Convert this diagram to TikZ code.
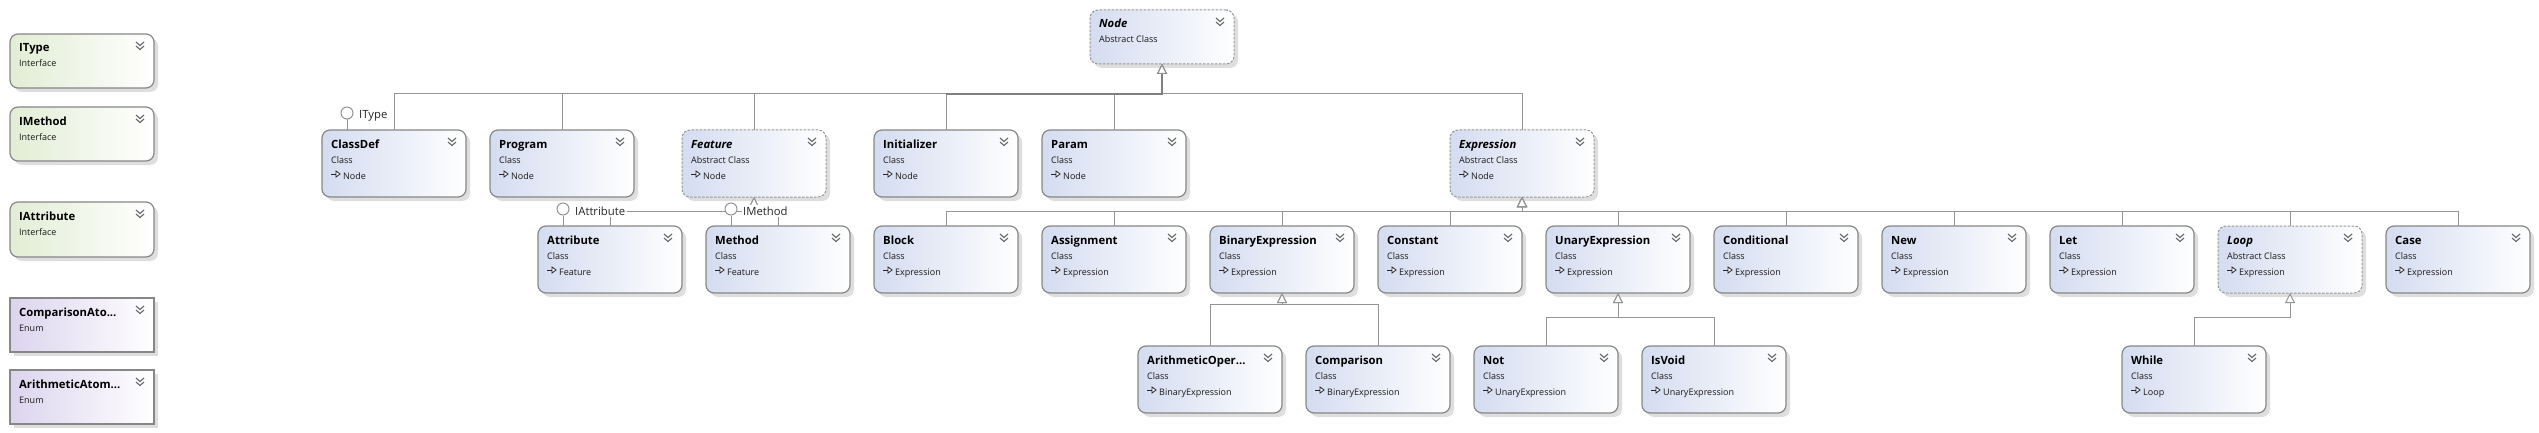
\documentclass[tikz,border=0pt]{standalone}
\usepackage{fontspec}
\setmainfont{Open Sans}
\usetikzlibrary{calc,arrows.meta}

\definecolor{clsL}{RGB}{212,220,240}
\definecolor{ifL}{RGB}{226,237,212}
\definecolor{enL}{RGB}{220,212,238}
\definecolor{bord}{RGB}{135,135,135}
\definecolor{dbord}{RGB}{150,150,150}
\definecolor{shad}{RGB}{222,222,222}
\definecolor{lnc}{RGB}{148,148,148}
\definecolor{chevc}{RGB}{100,100,100}

\tikzset{
  boxbase/.style={anchor=north west, minimum width=144pt, inner sep=0pt, outer sep=0pt, line width=1.2pt},
  clsbox/.style={boxbase, draw=bord, rounded corners=8pt, left color=clsL, right color=white},
  absbox/.style={boxbase, draw=dbord, line width=1pt, dash pattern=on 2.5pt off 1.5pt, rounded corners=8pt, left color=clsL, right color=white},
  ifbox/.style={boxbase, draw=bord, rounded corners=8pt, left color=ifL, right color=white},
  enumbox/.style={boxbase, draw=bord, left color=enL, right color=white},
  clsboxsh/.style={rounded corners=8pt},
  absboxsh/.style={rounded corners=8pt},
  ifboxsh/.style={rounded corners=8pt},
  enumboxsh/.style={},
  nametxt/.style={anchor=base west, inner sep=0pt, font=\fontsize{11.3}{13}\selectfont\bfseries},
  kindtxt/.style={anchor=base west, inner sep=0pt, text=black!90, font=\fontsize{9}{11}\selectfont},
  chevst/.style={draw=chevc, line width=1.1pt},
  garr/.style={draw=black!85, line width=0.8pt},
  conn/.style={draw=lnc, line width=1pt},
  inh/.style={conn, -{Triangle[open, fill=white, length=10pt, width=10pt]}},
  lolli/.style={circle, draw=lnc, line width=1pt, fill=white, minimum size=12pt, inner sep=0pt},
  lollbl/.style={anchor=base west, fill=white, inner sep=1.5pt, text=black!85, font=\fontsize{11.3}{13}\selectfont},
}

% \ubox{name}{style}{x}{y}{h}{title}{kind}{parent}
\newcommand\ubox[8]{%
  \fill[shad, #2sh] (#3+4,#4+4) rectangle (#3+148,#4+4+#5);
  \node[#2, minimum height=#5pt] (#1) at (#3,#4) {};
  \node[nametxt] (#1-n) at ($(#1.north west)+(9,18)$) {#6};
  \node[kindtxt] (#1-k) at ($(#1.north west)+(9,33)$) {#7};
  \draw[chevst] ($(#1.north east)+(-18,8)$) -- ++(4,3.5) -- ++(4,-3.5);
  \draw[chevst] ($(#1.north east)+(-18,12)$) -- ++(4,3.5) -- ++(4,-3.5);
  \ifx&#8&\else
    \draw[garr] ($(#1.north west)+(9,44)$) -- ++(5,0);
    \draw[garr, fill=white] ($(#1.north west)+(14,41)$) -- ++(4,3) -- ++(-4,3) -- cycle;
    \node[kindtxt] (#1-p) at ($(#1.north west)+(21,49)$) {#8};
  \fi
}

\begin{document}
\begin{tikzpicture}[x=1pt,y=-1pt]
\useasboundingbox[fill=white] (0,0) rectangle (2539,433);

% left column
\ubox{IType}{ifbox}{10}{34}{54}{IType}{Interface}{}
\ubox{IMethod}{ifbox}{10}{107}{54}{IMethod}{Interface}{}
\ubox{IAttribute}{ifbox}{10}{202}{55}{IAttribute}{Interface}{}
\ubox{ComparisonAtom}{enumbox}{10}{298}{54}{ComparisonAto...}{Enum}{}
\ubox{ArithmeticAtom}{enumbox}{10}{370}{54}{ArithmeticAtom...}{Enum}{}

% root
\ubox{Node}{absbox}{1090}{10}{54}{\textit{Node}}{Abstract Class}{}

% row 1
\ubox{ClassDef}{clsbox}{322}{130}{67}{ClassDef}{Class}{Node}
\ubox{Program}{clsbox}{490}{130}{67}{Program}{Class}{Node}
\ubox{Feature}{absbox}{682}{130}{67}{\textit{Feature}}{Abstract Class}{Node}
\ubox{Initializer}{clsbox}{874}{130}{67}{Initializer}{Class}{Node}
\ubox{Param}{clsbox}{1042}{130}{67}{Param}{Class}{Node}
\ubox{Expression}{absbox}{1450}{130}{67}{\textit{Expression}}{Abstract Class}{Node}

% row 2
\ubox{Attribute}{clsbox}{538}{226}{67}{Attribute}{Class}{Feature}
\ubox{Method}{clsbox}{706}{226}{67}{Method}{Class}{Feature}
\ubox{Block}{clsbox}{874}{226}{67}{Block}{Class}{Expression}
\ubox{Assignment}{clsbox}{1042}{226}{67}{Assignment}{Class}{Expression}
\ubox{BinaryExpression}{clsbox}{1210}{226}{67}{BinaryExpression}{Class}{Expression}
\ubox{Constant}{clsbox}{1378}{226}{67}{Constant}{Class}{Expression}
\ubox{UnaryExpression}{clsbox}{1546}{226}{67}{UnaryExpression}{Class}{Expression}
\ubox{Conditional}{clsbox}{1714}{226}{67}{Conditional}{Class}{Expression}
\ubox{New}{clsbox}{1882}{226}{67}{New}{Class}{Expression}
\ubox{Let}{clsbox}{2050}{226}{67}{Let}{Class}{Expression}
\ubox{Loop}{absbox}{2218}{226}{67}{\textit{Loop}}{Abstract Class}{Expression}
\ubox{Case}{clsbox}{2386}{226}{67}{Case}{Class}{Expression}

% row 3
\ubox{ArithmeticOper}{clsbox}{1138}{346}{67}{ArithmeticOper...}{Class}{BinaryExpression}
\ubox{Comparison}{clsbox}{1306}{346}{67}{Comparison}{Class}{BinaryExpression}
\ubox{Not}{clsbox}{1474}{346}{67}{Not}{Class}{UnaryExpression}
\ubox{IsVoid}{clsbox}{1642}{346}{67}{IsVoid}{Class}{UnaryExpression}
\ubox{While}{clsbox}{2122}{346}{67}{While}{Class}{Loop}

% bus levels
\coordinate (b1) at (0,94);
\coordinate (b2) at (0,211);
\coordinate (b3) at (0,304);
\coordinate (b4) at (0,317);

% inheritance
\foreach \c in {ClassDef,Program,Feature,Initializer,Param,Expression}
  \draw[inh] (\c.north) |- (Node.south |- b1) -- (Node.south);
\draw[conn, line width=1.4pt, draw=black!50] (Initializer.north |- b1) -- (Node.south |- b1) -- ($(Node.south)+(0,10)$);
\foreach \c in {Attribute,Method}
  \draw[inh] (\c.north) |- (Feature.south |- b2) -- (Feature.south);
\foreach \c in {Block,Assignment,BinaryExpression,Constant,UnaryExpression,Conditional,New,Let,Loop,Case}
  \draw[inh] (\c.north) |- (Expression.south |- b2) -- (Expression.south);
\foreach \c in {ArithmeticOper,Comparison}
  \draw[inh] (\c.north) |- (BinaryExpression.south |- b3) -- (BinaryExpression.south);
\foreach \c in {Not,IsVoid}
  \draw[inh] (\c.north) |- (UnaryExpression.south |- b4) -- (UnaryExpression.south);
\draw[inh] (While.north) |- (Loop.south |- b4) -- (Loop.south);

% lollipops
\node[lolli] (lT) at (347,113) {};
\draw[conn] (lT.south) -- (lT.south |- ClassDef.north);
\node[lollbl] (lTl) at (357.5,118) {IType};

\node[lolli] (lA) at (563,209) {};
\draw[conn] (lA.south) -- (lA.south |- Attribute.north);
\node[lollbl] (lAl) at (573.5,215) {IAttribute};

\node[lolli] (lM) at (731,209) {};
\draw[conn] (lM.south) -- (lM.south |- Method.north);
\node[lollbl] (lMl) at (741.5,215) {IMethod};
\end{tikzpicture}
\end{document}
